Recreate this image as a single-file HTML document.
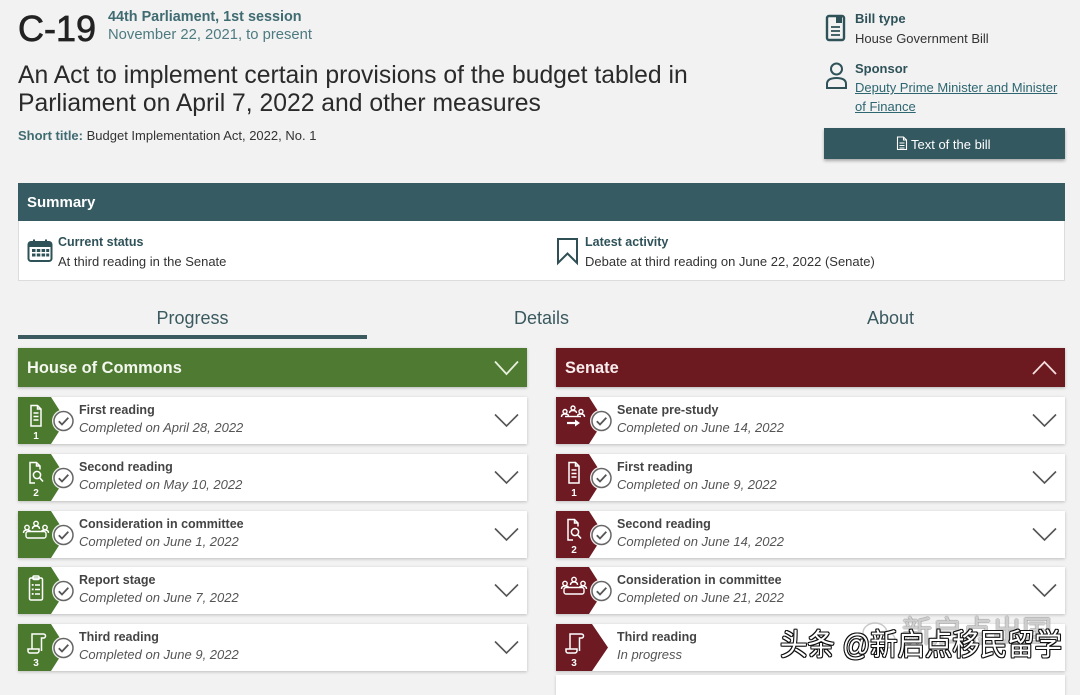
<!DOCTYPE html>
<html><head><meta charset="utf-8">
<style>
*{margin:0;padding:0;box-sizing:border-box}
body{width:1080px;height:682px;overflow:hidden;background:#f2f2f2;font-family:"Liberation Sans","Noto Sans CJK SC",sans-serif;position:relative}
.a{position:absolute;white-space:nowrap;line-height:1}
.item{position:absolute;width:509px;height:47px;background:#fff;box-shadow:0 1px 3px rgba(0,0,0,.22)}
.item svg{position:absolute;left:0;top:0}
.t1{position:absolute;left:61px;top:7.4px;font-size:12.5px;font-weight:bold;color:#444;line-height:1;white-space:nowrap}
.t2{position:absolute;left:61px;top:23.7px;font-size:13px;font-style:italic;color:#555;line-height:1;white-space:nowrap}
.hdr{position:absolute;width:509px;height:39px;box-shadow:0 1px 3px rgba(0,0,0,.25)}
.hdr span{position:absolute;left:9px;top:12px;font-size:16.4px;font-weight:bold;line-height:1;white-space:nowrap}
.tab{position:absolute;top:308.8px;width:349px;text-align:center;font-size:18px;color:#3b5a60;line-height:1}
</style></head><body>

<!-- Header -->
<div class="a" style="left:18px;top:10.5px;font-size:36px;color:#222;-webkit-text-stroke:0.7px #222">C-19</div>
<div class="a" style="left:108px;top:10px;font-size:14.4px;font-weight:bold;color:#3f6b71">44th Parliament, 1st session</div>
<div class="a" style="left:108px;top:28px;font-size:14.8px;color:#4d7a80">November 22, 2021, to present</div>
<div class="a" style="left:18px;top:62px;font-size:24.7px;line-height:28px;color:#2a2a2a">An Act to implement certain provisions of the budget tabled in<br>Parliament on April 7, 2022 and other measures</div>
<div class="a" style="left:18px;top:129px;font-size:13px;color:#333"><b style="color:#3f6b71">Short title:</b> Budget Implementation Act, 2022, No. 1</div>

<!-- Right header -->
<svg class="a" style="left:825px;top:14px" width="24" height="28">
  <rect x="2" y="2" width="17" height="24" rx="2" fill="none" stroke="#2f5259" stroke-width="2.4"/>
  <rect x="11" y="2" width="6" height="7" fill="#2f5259"/>
  <path d="M6 13H15M6 17H15M6 21H15" stroke="#2f5259" stroke-width="1.8"/>
</svg>
<div class="a" style="left:855px;top:12px;font-size:13px;font-weight:bold;color:#2f5259">Bill type</div>
<div class="a" style="left:855px;top:32px;font-size:13px;color:#333">House Government Bill</div>
<svg class="a" style="left:825px;top:62px" width="26" height="30">
  <circle cx="11.5" cy="7" r="5.5" fill="none" stroke="#2f5259" stroke-width="2"/>
  <path d="M2 26V22Q2 16 11.5 16Q21 16 21 22V26Z" fill="none" stroke="#2f5259" stroke-width="2"/>
</svg>
<div class="a" style="left:855px;top:62px;font-size:13px;font-weight:bold;color:#2f5259">Sponsor</div>
<div class="a" style="left:855px;top:78px;font-size:13px;line-height:19px;color:#2d6670;text-decoration:underline">Deputy Prime Minister and Minister<br>of Finance</div>
<div class="a" style="left:824px;top:128px;width:241px;height:31px;background:#34585f;box-shadow:0 2px 3px rgba(0,0,0,.3)"></div>
<svg class="a" style="left:896px;top:136px" width="12" height="15">
  <path d="M1.5 1H7.5L10.5 4V13.5H1.5Z M7.5 1V4H10.5 M3.5 7H8.5M3.5 9.5H8.5M3.5 12H8.5" fill="none" stroke="#fff" stroke-width="1.1"/>
</svg>
<div class="a" style="left:911px;top:138px;font-size:13px;color:#fff">Text of the bill</div>

<!-- Summary -->
<div class="a" style="left:18px;top:183px;width:1047px;height:38px;background:#365b63"></div>
<div class="a" style="left:27px;top:195.3px;font-size:15px;font-weight:bold;color:#fff">Summary</div>
<div class="a" style="left:18px;top:221px;width:1047px;height:60px;background:#fff;border:1px solid #dcdcdc;border-top:none"></div>
<svg class="a" style="left:27px;top:238px" width="27" height="26">
  <rect x="1.5" y="4" width="23" height="19" rx="2.5" fill="none" stroke="#2f5259" stroke-width="2"/>
  <rect x="1.5" y="4" width="23" height="5" fill="#2f5259"/>
  <path d="M7 1.5V6M19 1.5V6" stroke="#2f5259" stroke-width="2"/>
  <g fill="#2f5259">
    <rect x="5" y="11" width="3.5" height="3"/><rect x="9.8" y="11" width="3.5" height="3"/><rect x="14.6" y="11" width="3.5" height="3"/><rect x="19.2" y="11" width="3" height="3"/>
    <rect x="5" y="15.5" width="3.5" height="3"/><rect x="9.8" y="15.5" width="3.5" height="3"/><rect x="14.6" y="15.5" width="3.5" height="3"/><rect x="19.2" y="15.5" width="3" height="3"/>
  </g>
</svg>
<div class="a" style="left:58px;top:236.4px;font-size:12.5px;font-weight:bold;color:#2f5259">Current status</div>
<div class="a" style="left:58px;top:255px;font-size:13px;color:#333">At third reading in the Senate</div>
<svg class="a" style="left:556px;top:237px" width="24" height="29">
  <path d="M2 2H21V26L11.5 16.5L2 26Z" fill="none" stroke="#2f4f55" stroke-width="2"/>
</svg>
<div class="a" style="left:585px;top:236.4px;font-size:12.5px;font-weight:bold;color:#2f5259">Latest activity</div>
<div class="a" style="left:585px;top:255px;font-size:13px;color:#333">Debate at third reading on June 22, 2022 (Senate)</div>

<!-- Tabs -->
<div class="tab" style="left:18px">Progress</div>
<div class="tab" style="left:367px">Details</div>
<div class="tab" style="left:716px">About</div>
<div class="a" style="left:18px;top:335px;width:349px;height:4px;background:#3a5a60"></div>

<!-- Column headers -->
<div class="hdr" style="left:18px;top:348px;background:#4f7a31"><span style="color:#f3f7ee">House of Commons</span>
  <svg style="position:absolute;left:0;top:0" width="509" height="39"><polyline points="477,13.5 488.5,26 500,13.5" fill="none" stroke="#e6efdc" stroke-width="1.8"/></svg>
</div>
<div class="hdr" style="left:556px;top:348px;background:#6d1920"><span style="color:#f8ecec">Senate</span>
  <svg style="position:absolute;left:0;top:0" width="509" height="39"><polyline points="477,26 488.5,14 500,26" fill="none" stroke="#f4dede" stroke-width="1.8"/></svg>
</div>

<!-- Left column items -->
<div class="item" style="left:18px;top:397px">
<svg width="509" height="47">
<polygon points="0,0 33,0 48,23.5 33,47 0,47" fill="#4b7a2e"/>
<path d="M13 8.5H19.5L23 12V29H13Z M19.5 8.5V12H23 M15.5 16H20.5 M15.5 19.5H20.5 M15.5 23H20.5" fill="none" stroke="#fff" stroke-width="1.5"/>
<text x="18" y="42" fill="#fff" font-size="10" font-weight="bold" text-anchor="middle" font-family="Liberation Sans">1</text>
<circle cx="45.5" cy="24" r="11.5" fill="#fff" opacity=".9"/><circle cx="45.5" cy="24" r="9.5" fill="#fff" stroke="#666" stroke-width="1.5"/><path d="M40.8 24.2L44 27.5L50.3 20.8" fill="none" stroke="#555" stroke-width="1.8"/>
<polyline points="477,17.5 488.5,29 500,17.5" fill="none" stroke="#555" stroke-width="1.6"/>
</svg>
<div class="t1">First reading</div><div class="t2">Completed on April 28, 2022</div>
</div>

<div class="item" style="left:18px;top:454px">
<svg width="509" height="47">
<polygon points="0,0 33,0 48,23.5 33,47 0,47" fill="#4b7a2e"/>
<path d="M17 29H12V8.5H18.5L22 12V15.5 M18.5 8.5V12H22" fill="none" stroke="#fff" stroke-width="1.5"/>
<circle cx="19" cy="21" r="3.6" fill="none" stroke="#fff" stroke-width="1.5"/><path d="M21.6 23.6L25 27.5" stroke="#fff" stroke-width="1.6"/>
<text x="18" y="42" fill="#fff" font-size="10" font-weight="bold" text-anchor="middle" font-family="Liberation Sans">2</text>
<circle cx="45.5" cy="24" r="11.5" fill="#fff" opacity=".9"/><circle cx="45.5" cy="24" r="9.5" fill="#fff" stroke="#666" stroke-width="1.5"/><path d="M40.8 24.2L44 27.5L50.3 20.8" fill="none" stroke="#555" stroke-width="1.8"/>
<polyline points="477,17.5 488.5,29 500,17.5" fill="none" stroke="#555" stroke-width="1.6"/>
</svg>
<div class="t1">Second reading</div><div class="t2">Completed on May 10, 2022</div>
</div>

<div class="item" style="left:18px;top:511px">
<svg width="509" height="47">
<polygon points="0,0 33,0 48,23.5 33,47 0,47" fill="#4b7a2e"/>
<g fill="none" stroke="#fff" stroke-width="1.4">
<circle cx="9" cy="16.5" r="2.2"/><circle cx="18" cy="12.5" r="2.2"/><circle cx="27" cy="16.5" r="2.2"/>
<path d="M5.5 22Q5.5 19 9 19Q12.5 19 12.5 21 M14.5 18Q14.5 15 18 15Q21.5 15 21.5 18 M23.5 21Q23.5 19 27 19Q30.5 19 30.5 22"/>
<rect x="8" y="20.5" width="20" height="6.5" rx="2"/>
</g>
<circle cx="45.5" cy="24" r="11.5" fill="#fff" opacity=".9"/><circle cx="45.5" cy="24" r="9.5" fill="#fff" stroke="#666" stroke-width="1.5"/><path d="M40.8 24.2L44 27.5L50.3 20.8" fill="none" stroke="#555" stroke-width="1.8"/>
<polyline points="477,17.5 488.5,29 500,17.5" fill="none" stroke="#555" stroke-width="1.6"/>
</svg>
<div class="t1">Consideration in committee</div><div class="t2">Completed on June 1, 2022</div>
</div>

<div class="item" style="left:18px;top:567px">
<svg width="509" height="47">
<polygon points="0,0 33,0 48,23.5 33,47 0,47" fill="#4b7a2e"/>
<g fill="none" stroke="#fff" stroke-width="1.5">
<rect x="11.5" y="11" width="13" height="22" rx="1.5"/>
<rect x="15" y="9" width="6" height="3.5" rx="1"/>
<path d="M17 18H22M17 22.5H22M17 27H22"/>
</g>
<g fill="#fff"><rect x="13.8" y="17" width="1.8" height="1.8"/><rect x="13.8" y="21.5" width="1.8" height="1.8"/><rect x="13.8" y="26" width="1.8" height="1.8"/></g>
<circle cx="45.5" cy="24" r="11.5" fill="#fff" opacity=".9"/><circle cx="45.5" cy="24" r="9.5" fill="#fff" stroke="#666" stroke-width="1.5"/><path d="M40.8 24.2L44 27.5L50.3 20.8" fill="none" stroke="#555" stroke-width="1.8"/>
<polyline points="477,17.5 488.5,29 500,17.5" fill="none" stroke="#555" stroke-width="1.6"/>
</svg>
<div class="t1">Report stage</div><div class="t2">Completed on June 7, 2022</div>
</div>

<div class="item" style="left:18px;top:624px">
<svg width="509" height="47">
<polygon points="0,0 33,0 48,23.5 33,47 0,47" fill="#4b7a2e"/>
<g fill="none" stroke="#fff" stroke-width="1.5">
<path d="M14 25V10H25.5A2 2 0 0 1 25.5 14H23.5V27"/>
<path d="M10 25H21V27A2.2 2.2 0 0 1 18.8 29H12A2 2 0 0 1 10 27Z"/>
</g>
<text x="18" y="42" fill="#fff" font-size="10" font-weight="bold" text-anchor="middle" font-family="Liberation Sans">3</text>
<circle cx="45.5" cy="24" r="11.5" fill="#fff" opacity=".9"/><circle cx="45.5" cy="24" r="9.5" fill="#fff" stroke="#666" stroke-width="1.5"/><path d="M40.8 24.2L44 27.5L50.3 20.8" fill="none" stroke="#555" stroke-width="1.8"/>
<polyline points="477,17.5 488.5,29 500,17.5" fill="none" stroke="#555" stroke-width="1.6"/>
</svg>
<div class="t1">Third reading</div><div class="t2">Completed on June 9, 2022</div>
</div>

<!-- Right column items -->
<div class="item" style="left:556px;top:397px">
<svg width="509" height="47">
<polygon points="0,0 33,0 48,23.5 33,47 0,47" fill="#6d1a22"/>
<g fill="none" stroke="#fff" stroke-width="1.4">
<circle cx="9" cy="14.5" r="2"/><circle cx="17" cy="11" r="2"/><circle cx="25" cy="14.5" r="2"/>
<path d="M5.5 20Q5.5 17 9 17Q12.5 17 12.5 19 M13.5 16Q13.5 13.5 17 13.5Q20.5 13.5 20.5 16 M21.5 19Q21.5 17 25 17Q28.5 17 28.5 20"/>
<path d="M9 19.5H25"/>
</g>
<path d="M11 26H20" stroke="#fff" stroke-width="2.2"/><path d="M19 22.5L24 26L19 29.5Z" fill="#fff"/>
<circle cx="45.5" cy="24" r="11.5" fill="#fff" opacity=".9"/><circle cx="45.5" cy="24" r="9.5" fill="#fff" stroke="#666" stroke-width="1.5"/><path d="M40.8 24.2L44 27.5L50.3 20.8" fill="none" stroke="#555" stroke-width="1.8"/>
<polyline points="477,17.5 488.5,29 500,17.5" fill="none" stroke="#555" stroke-width="1.6"/>
</svg>
<div class="t1">Senate pre-study</div><div class="t2">Completed on June 14, 2022</div>
</div>

<div class="item" style="left:556px;top:454px">
<svg width="509" height="47">
<polygon points="0,0 33,0 48,23.5 33,47 0,47" fill="#6d1a22"/>
<path d="M13 8.5H19.5L23 12V29H13Z M19.5 8.5V12H23 M15.5 16H20.5 M15.5 19.5H20.5 M15.5 23H20.5" fill="none" stroke="#fff" stroke-width="1.5"/>
<text x="18" y="42" fill="#fff" font-size="10" font-weight="bold" text-anchor="middle" font-family="Liberation Sans">1</text>
<circle cx="45.5" cy="24" r="11.5" fill="#fff" opacity=".9"/><circle cx="45.5" cy="24" r="9.5" fill="#fff" stroke="#666" stroke-width="1.5"/><path d="M40.8 24.2L44 27.5L50.3 20.8" fill="none" stroke="#555" stroke-width="1.8"/>
<polyline points="477,17.5 488.5,29 500,17.5" fill="none" stroke="#555" stroke-width="1.6"/>
</svg>
<div class="t1">First reading</div><div class="t2">Completed on June 9, 2022</div>
</div>

<div class="item" style="left:556px;top:511px">
<svg width="509" height="47">
<polygon points="0,0 33,0 48,23.5 33,47 0,47" fill="#6d1a22"/>
<path d="M17 29H12V8.5H18.5L22 12V15.5 M18.5 8.5V12H22" fill="none" stroke="#fff" stroke-width="1.5"/>
<circle cx="19" cy="21" r="3.6" fill="none" stroke="#fff" stroke-width="1.5"/><path d="M21.6 23.6L25 27.5" stroke="#fff" stroke-width="1.6"/>
<text x="18" y="42" fill="#fff" font-size="10" font-weight="bold" text-anchor="middle" font-family="Liberation Sans">2</text>
<circle cx="45.5" cy="24" r="11.5" fill="#fff" opacity=".9"/><circle cx="45.5" cy="24" r="9.5" fill="#fff" stroke="#666" stroke-width="1.5"/><path d="M40.8 24.2L44 27.5L50.3 20.8" fill="none" stroke="#555" stroke-width="1.8"/>
<polyline points="477,17.5 488.5,29 500,17.5" fill="none" stroke="#555" stroke-width="1.6"/>
</svg>
<div class="t1">Second reading</div><div class="t2">Completed on June 14, 2022</div>
</div>

<div class="item" style="left:556px;top:567px">
<svg width="509" height="47">
<polygon points="0,0 33,0 48,23.5 33,47 0,47" fill="#6d1a22"/>
<g fill="none" stroke="#fff" stroke-width="1.4">
<circle cx="9" cy="16.5" r="2.2"/><circle cx="18" cy="12.5" r="2.2"/><circle cx="27" cy="16.5" r="2.2"/>
<path d="M5.5 22Q5.5 19 9 19Q12.5 19 12.5 21 M14.5 18Q14.5 15 18 15Q21.5 15 21.5 18 M23.5 21Q23.5 19 27 19Q30.5 19 30.5 22"/>
<rect x="8" y="20.5" width="20" height="6.5" rx="2"/>
</g>
<circle cx="45.5" cy="24" r="11.5" fill="#fff" opacity=".9"/><circle cx="45.5" cy="24" r="9.5" fill="#fff" stroke="#666" stroke-width="1.5"/><path d="M40.8 24.2L44 27.5L50.3 20.8" fill="none" stroke="#555" stroke-width="1.8"/>
<polyline points="477,17.5 488.5,29 500,17.5" fill="none" stroke="#555" stroke-width="1.6"/>
</svg>
<div class="t1">Consideration in committee</div><div class="t2">Completed on June 21, 2022</div>
</div>

<div class="item" style="left:556px;top:624px">
<svg width="509" height="47">
<polygon points="0,0 36,0 52,23.5 36,47 0,47" fill="#6d1a22"/>
<g fill="none" stroke="#fff" stroke-width="1.5">
<path d="M14 25V10H25.5A2 2 0 0 1 25.5 14H23.5V27"/>
<path d="M10 25H21V27A2.2 2.2 0 0 1 18.8 29H12A2 2 0 0 1 10 27Z"/>
</g>
<text x="18" y="42" fill="#fff" font-size="10" font-weight="bold" text-anchor="middle" font-family="Liberation Sans">3</text>
</svg>
<div class="t1">Third reading</div><div class="t2">In progress</div>
</div>

<div class="a" style="left:556px;top:675px;width:509px;height:20px;background:#fff;box-shadow:0 1px 3px rgba(0,0,0,.2)"></div>

<!-- Watermarks -->
<svg class="a" style="left:860px;top:618px" width="40" height="36">
  <ellipse cx="15" cy="15" rx="12" ry="10" fill="none" stroke="#bbb" stroke-width="1.5" opacity=".8"/>
  <ellipse cx="25" cy="22" rx="10" ry="8.5" fill="none" stroke="#bbb" stroke-width="1.5" opacity=".8"/>
</svg>
<div class="a" style="left:902px;top:618px;font-size:30px;font-family:'Liberation Sans','Noto Sans CJK SC',sans-serif;color:rgba(255,255,255,.5);text-shadow:1px 0 rgba(150,150,150,.55),-1px 0 rgba(150,150,150,.55),0 1px rgba(150,150,150,.55),0 -1px rgba(150,150,150,.55)">新启点出国</div>
<div class="a" style="left:780px;top:631px;font-size:30px;font-family:'Liberation Sans','Noto Sans CJK SC',sans-serif;color:#fff;transform:scaleX(0.913);transform-origin:0 50%;text-shadow:1.2px 0 #111,-1.2px 0 #111,0 1.2px #111,0 -1.2px #111,1px 1px #111,-1px -1px #111,1px -1px #111,-1px 1px #111">头条 @新启点移民留学</div>

</body></html>
